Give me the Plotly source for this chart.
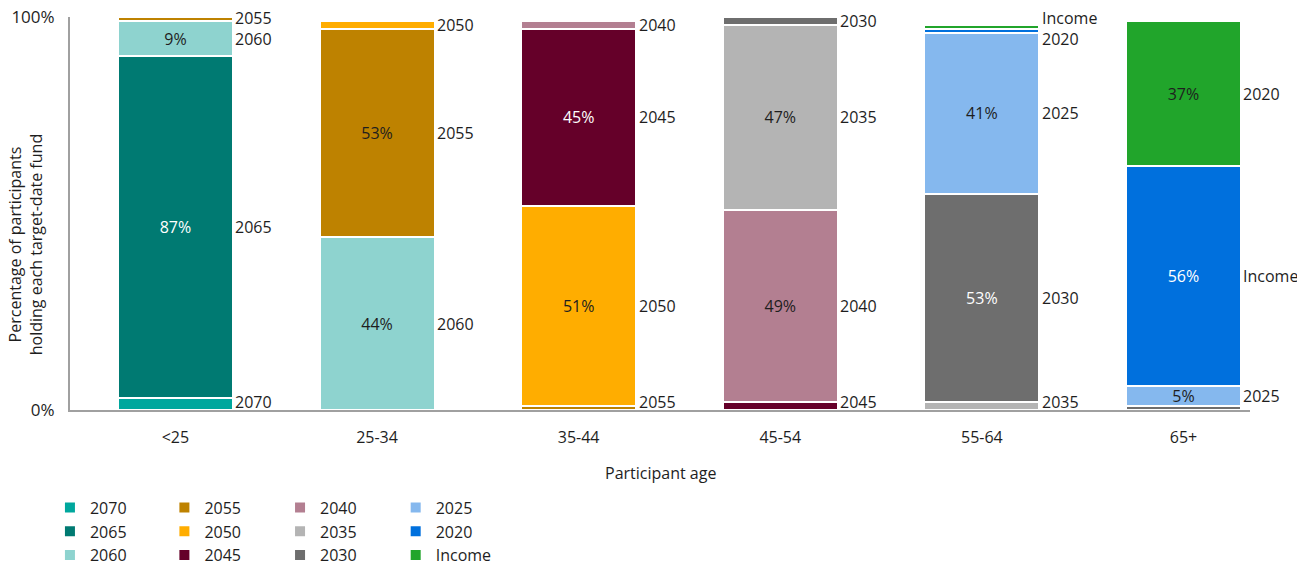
import plotly.graph_objects as go

# Participant age groups
ages = ["<25", "25-34", "35-44", "45-54", "55-64", "65+"]

# Share of participants (%) holding each target-date fund, by age group
fund_2070 = [3, 0, 0, 0, 0, 0]
fund_2065 = [87, 0, 0, 0, 0, 0]
fund_2060 = [9, 44, 0, 0, 0, 0]
fund_2055 = [1, 53, 1, 0, 0, 0]
fund_2050 = [0, 2, 51, 0, 0, 0]
fund_2045 = [0, 0, 45, 2, 0, 0]
fund_2040 = [0, 0, 2, 49, 0, 0]
fund_2035 = [0, 0, 0, 47, 2, 0]
fund_2030 = [0, 0, 0, 2, 53, 1]
fund_2025 = [0, 0, 0, 0, 41, 5]
fund_2020 = [0, 0, 0, 0, 1, 56]
fund_income = [0, 0, 0, 0, 1, 37]

# Stacking order (bottom to top): name, values, fill, inside-label colour
series = [
    ("2070", fund_2070, "#00A79D", "#1E1E1E"),
    ("2065", fund_2065, "#007A72", "#FFFFFF"),
    ("2060", fund_2060, "#8ED3CF", "#1E1E1E"),
    ("2055", fund_2055, "#BE8200", "#1E1E1E"),
    ("2050", fund_2050, "#FFAD00", "#1E1E1E"),
    ("2045", fund_2045, "#650029", "#FFFFFF"),
    ("2040", fund_2040, "#B37F91", "#1E1E1E"),
    ("2035", fund_2035, "#B4B4B4", "#1E1E1E"),
    ("2030", fund_2030, "#6E6E6E", "#FFFFFF"),
    ("2025", fund_2025, "#85B8EE", "#1E1E1E"),
    ("2020", fund_2020, "#0070DD", "#FFFFFF"),
    ("Income", fund_income, "#21A52B", "#1E1E1E"),
]

# Labels written beside each bar: (segment it sits next to, label text), bottom to top
side_labels = {
    "<25": [("2070", "2070"), ("2065", "2065"), ("2060", "2060"), ("2055", "2055")],
    "25-34": [("2060", "2060"), ("2055", "2055"), ("2050", "2050")],
    "35-44": [("2055", "2055"), ("2050", "2050"), ("2045", "2045"), ("2040", "2040")],
    "45-54": [("2045", "2045"), ("2040", "2040"), ("2035", "2035"), ("2030", "2030")],
    "55-64": [("2035", "2035"), ("2030", "2030"), ("2025", "2025"), ("2020", "2020"), ("Income", "Income")],
    "65+": [("2025", "2025"), ("2020", "Income"), ("Income", "2020")],
}

# Legend columns (top to bottom within each column)
legend_columns = [
    ["2070", "2065", "2060"],
    ["2055", "2050", "2045"],
    ["2040", "2035", "2030"],
    ["2025", "2020", "Income"],
]

FONT = "Open Sans"
FS = 16
TEXT = "#1E1E1E"
AXIS = "#A0A0A0"

legend_of = {}
for i, col in enumerate(legend_columns):
    for name in col:
        legend_of[name] = "legend" if i == 0 else f"legend{i + 1}"

fig = go.Figure()
for name, vals, color, tcolor in series:
    labels = [f"{v}%" if v >= 5 else "" for v in vals]
    fig.add_trace(go.Bar(
        name=name,
        x=ages,
        y=vals,
        width=0.57,
        marker=dict(color=color, line=dict(color="white", width=2)),
        text=labels,
        textposition="inside",
        insidetextanchor="middle",
        textangle=0,
        constraintext="none",
        textfont=dict(family=FONT, size=FS, color=tcolor),
        legend=legend_of[name],
        hoverinfo="skip",
    ))

# Side labels: placed at each segment's midpoint, kept clear of the axis
# and nudged apart where they crowd
values = {name: vals for name, vals, _, _ in series}
order = [s[0] for s in series]
MIN_GAP = 5.4
LOWEST = 2.0
annotations = []
for ci, age in enumerate(ages):
    base = {}
    acc = 0
    for name in order:
        base[name] = acc
        acc += values[name][ci]
    ys = [base[seg] + values[seg][ci] / 2 for seg, _ in side_labels[age]]
    ys[0] = max(ys[0], LOWEST)
    for j in range(1, len(ys)):
        gap = ys[j] - ys[j - 1]
        if gap < MIN_GAP:
            shift = (MIN_GAP - gap) / 2
            ys[j - 1] -= shift
            ys[j] += shift
    for (seg, txt), yv in zip(side_labels[age], ys):
        annotations.append(dict(
            x=age, y=yv, xref="x", yref="y", text=txt, showarrow=False,
            xanchor="left", yanchor="middle", xshift=60,
            borderpad=0, borderwidth=0,
            font=dict(family=FONT, size=FS, color=TEXT),
        ))

annotations.append(dict(
    x=0.5, y=-0.16, xref="paper", yref="paper", text="Participant age",
    showarrow=False, xanchor="center", yanchor="middle",
    font=dict(family=FONT, size=FS, color=TEXT),
))
annotations.append(dict(
    x=-0.037, y=0.42, xref="paper", yref="paper",
    text="Percentage of participants<br>holding each target-date fund",
    showarrow=False, xanchor="center", yanchor="middle", textangle=-90,
    font=dict(family=FONT, size=FS, color=TEXT),
))

legend_style = dict(
    orientation="v", yanchor="top", xanchor="left", y=-0.205,
    font=dict(family=FONT, size=FS, color=TEXT),
    bgcolor="rgba(0,0,0,0)", traceorder="normal",
)
legend_x = [-0.017, 0.080, 0.178, 0.276]

fig.update_layout(
    width=1297, height=571,
    margin=dict(l=70, r=47, t=17, b=161, autoexpand=False),
    barmode="stack",
    plot_bgcolor="white", paper_bgcolor="white",
    font=dict(family=FONT, size=FS, color=TEXT),
    showlegend=True,
    legend=dict(legend_style, x=legend_x[0]),
    legend2=dict(legend_style, x=legend_x[1]),
    legend3=dict(legend_style, x=legend_x[2]),
    legend4=dict(legend_style, x=legend_x[3]),
    annotations=annotations,
    xaxis=dict(
        range=[-0.523, 5.33], showline=True, linecolor=AXIS, linewidth=2,
        ticks="", ticklabelstandoff=12, showgrid=False, zeroline=False,
        tickfont=dict(family=FONT, size=FS, color=TEXT), fixedrange=True,
    ),
    yaxis=dict(
        range=[0, 100], tickvals=[0, 100], ticktext=["0%", "100%"],
        showline=True, linecolor=AXIS, linewidth=2, ticks="",
        ticklabelstandoff=10, showgrid=False, zeroline=False,
        tickfont=dict(family=FONT, size=17, color=TEXT), fixedrange=True,
    ),
)

fig.write_html("out.html")
